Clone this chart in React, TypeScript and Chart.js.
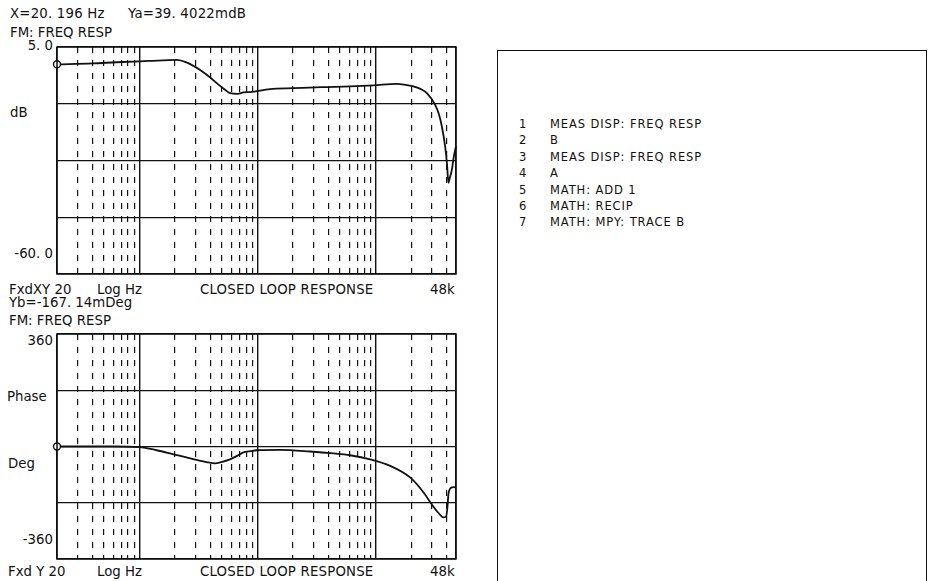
import React, { useEffect, useRef } from 'react';
import { Chart, registerables } from 'chart.js';

Chart.register(...registerables);

// ---- data ----
const freqMin = 20;
const freqMax = 48000;

const gridFreqs = [
  20, 30, 40, 50, 60, 70, 80, 90,
  100, 200, 300, 400, 500, 600, 700, 800, 900,
  1000, 2000, 3000, 4000, 5000, 6000, 7000, 8000, 9000,
  10000, 20000, 30000, 40000, 48000,
];
const decadeFreqs = [100, 1000, 10000];

const magFreqs = [
  20, 40, 64, 120, 206, 250, 326, 400, 451, 520, 585, 680, 758, 865, 1277,
  2014, 3500, 6080, 9600, 15100, 20900, 24000, 27200, 31900, 34500, 36400,
  38800, 40300, 41400, 42500, 44300, 46000, 48000,
];
const magDb = [
  0.04, 0.3, 0.64, 1.0, 1.3, 0.6, -1.56, -3.8, -5.35, -7.0, -8.2, -8.4, -8.0, -7.9, -7.05,
  -6.8, -6.5, -6.3, -6.0, -5.55, -6.3, -7.0, -8.2, -11.5, -14.4, -17.7,
  -23.4, -28.6, -33.9, -32.5, -30.1, -26.4, -23.4,
];
const magTicks = [-60, -43.75, -27.5, -11.25, 5];

const phaseFreqs = [
  20, 60, 100, 140, 194, 250, 305, 370, 437, 500, 585, 680, 758, 870, 984,
  1552, 2790, 4400, 6080, 9000, 13300, 19600, 25500, 29900, 34000, 37600,
  39600, 40600, 41400, 42800, 44300, 46000, 48000,
];
const phaseDeg = [
  0, 0, -2, -12, -25, -35, -43, -50, -54, -49, -41, -29, -19, -15, -12,
  -11, -16, -22, -28, -41, -62, -99, -147, -185, -212, -227,
  -224, -195, -153, -135, -131, -130, -131,
];
const phaseTicks = [-360, -180, 0, 180, 360];

const stepLines = [
  ['1', 'MEAS DISP: FREQ RESP'],
  ['2', 'B'],
  ['3', 'MEAS DISP: FREQ RESP'],
  ['4', 'A'],
  ['5', 'MATH: ADD 1'],
  ['6', 'MATH: RECIP'],
  ['7', 'MATH: MPY: TRACE B'],
];

const INK = '#111';
const FONT = "'DejaVu Sans', 'Noto Sans', sans-serif";

const framePlugin = {
  id: 'frame',
  afterDraw(chart: any) {
    const { ctx, chartArea } = chart;
    ctx.save();
    ctx.strokeStyle = INK;
    ctx.lineWidth = 1.5;
    ctx.strokeRect(chartArea.left, chartArea.top, chartArea.right - chartArea.left, chartArea.bottom - chartArea.top);
    ctx.restore();
  },
};

type PlotProps = {
  left: number; top: number; width: number; height: number;
  freqs: number[]; values: number[]; yTicks: number[];
};

function Plot({ left, top, width, height, freqs, values, yTicks }: PlotProps) {
  const ref = useRef<HTMLCanvasElement>(null);
  const pad = 6;
  useEffect(() => {
    const isMajor = (v: number | undefined) =>
      v !== undefined && (decadeFreqs.includes(v) || v === freqMin || v === freqMax);
    const chart = new Chart(ref.current as HTMLCanvasElement, {
      type: 'line',
      data: {
        datasets: [
          {
            data: freqs.map((f, i) => ({ x: f, y: values[i] })),
            borderColor: INK,
            borderWidth: 1.8,
            cubicInterpolationMode: 'monotone',
            pointRadius: (c: any) => (c.dataIndex === 0 ? 3.5 : 0),
            pointBackgroundColor: '#fff',
            pointBorderColor: INK,
            pointBorderWidth: 1.4,
            fill: false,
            clip: 8,
          } as any,
        ],
      },
      options: {
        animation: false,
        responsive: false,
        maintainAspectRatio: false,
        events: [],
        layout: { padding: pad, autoPadding: false } as any,
        plugins: { legend: { display: false }, tooltip: { enabled: false } },
        scales: {
          x: {
            type: 'logarithmic',
            min: freqMin,
            max: freqMax,
            afterBuildTicks: (ax: any) => {
              ax.ticks = gridFreqs.map((v) => ({ value: v }));
            },
            ticks: { display: false },
            grid: {
              drawTicks: false,
              color: INK,
              lineWidth: (c: any) => (isMajor(c.tick?.value) ? 1.4 : 1.2),
            },
            border: {
              display: false,
              dash: (c: any) => (isMajor(c.tick?.value) ? [] : [6, 7]),
            },
          } as any,
          y: {
            type: 'linear',
            min: yTicks[0],
            max: yTicks[yTicks.length - 1],
            afterBuildTicks: (ax: any) => {
              ax.ticks = yTicks.map((v) => ({ value: v }));
            },
            ticks: { display: false },
            grid: { drawTicks: false, color: INK, lineWidth: 1.2 },
            border: { display: false },
          } as any,
        },
      },
      plugins: [framePlugin],
    });
    return () => chart.destroy();
  }, []);
  return (
    <canvas
      ref={ref}
      width={width + 2 * pad}
      height={height + 2 * pad}
      style={{ position: 'absolute', left: left - pad, top: top - pad, width: width + 2 * pad, height: height + 2 * pad }}
    />
  );
}

function T({ x, y, right, size = 13.3, children, ls = 0 }: any) {
  const style: any = {
    position: 'absolute',
    top: y,
    transform: 'translateY(-50%)',
    fontFamily: FONT,
    fontSize: size,
    lineHeight: 1,
    color: INK,
    whiteSpace: 'pre',
    letterSpacing: ls,
  };
  if (right !== undefined) style.right = 935 - right;
  else style.left = x;
  return <div style={style}>{children}</div>;
}

export default function App() {
  return (
    <div style={{ position: 'fixed', left: 0, top: 0, width: 935, height: 581, background: '#fff', overflow: 'hidden' }}>
      <T x={10} y={14} ls={0.2}>X=20. 196 Hz</T>
      <T x={128} y={14} ls={0.2}>Ya=39. 4022mdB</T>
      <T x={10} y={33}>FM: FREQ RESP</T>
      <T right={53} y={46}>5. 0</T>
      <T x={10} y={113}>dB</T>
      <T right={53} y={254}>-60. 0</T>
      <T x={9} y={290}>FxdXY 20</T>
      <T x={97} y={290}>Log Hz</T>
      <T x={200} y={290} ls={0.2}>CLOSED LOOP RESPONSE</T>
      <T x={430} y={290}>48k</T>
      <T x={9} y={303}>Yb=-167. 14mDeg</T>
      <T x={9} y={321}>FM: FREQ RESP</T>
      <T right={53} y={341}>360</T>
      <T x={7} y={397}>Phase</T>
      <T x={8} y={464}>Deg</T>
      <T right={53} y={540}>-360</T>
      <T x={8} y={572}>Fxd Y 20</T>
      <T x={97} y={572}>Log Hz</T>
      <T x={200} y={572} ls={0.2}>CLOSED LOOP RESPONSE</T>
      <T x={430} y={572}>48k</T>

      <Plot left={57} top={47} width={399} height={227} freqs={magFreqs} values={magDb} yTicks={magTicks} />
      <Plot left={57} top={334} width={399} height={225} freqs={phaseFreqs} values={phaseDeg} yTicks={phaseTicks} />

      <div
        style={{
          position: 'absolute', left: 497, top: 50, width: 430, height: 560,
          borderTop: `1.5px solid ${INK}`, borderLeft: `1.5px solid ${INK}`, borderRight: `1.5px solid ${INK}`,
          boxSizing: 'border-box',
        }}
      />
      {stepLines.map((s, i) => (
        <React.Fragment key={i}>
          <T x={519} y={125 + i * 16.4} size={11.5} ls={0.9}>{s[0]}</T>
          <T x={550} y={125 + i * 16.4} size={11.5} ls={0.9}>{s[1]}</T>
        </React.Fragment>
      ))}
    </div>
  );
}
